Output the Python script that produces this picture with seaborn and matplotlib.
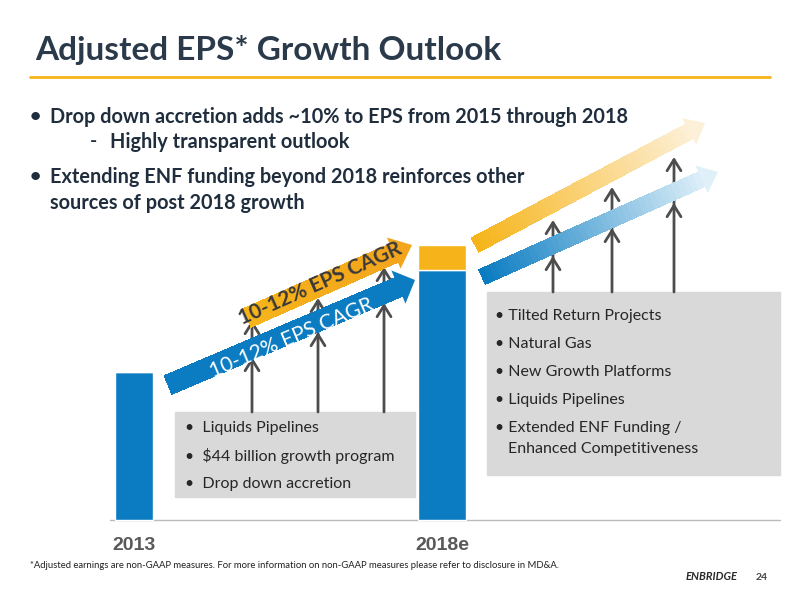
import matplotlib
matplotlib.use("Agg")
import matplotlib.pyplot as plt
import seaborn as sns
import numpy as np
from matplotlib.patches import Polygon, Rectangle, FancyArrowPatch
from matplotlib.colors import to_rgb

sns.set_theme(style="white")
plt.rcParams['font.family'] = ['Lato', 'DejaVu Sans']

categories = ["2013", "2018e"]
base_eps = [148, 250]
growth_add = [0, 25]
left_items = ["Liquids Pipelines", "$44 billion growth program", "Drop down accretion"]
right_items = ["Tilted Return Projects", "Natural Gas", "New Growth Platforms",
               "Liquids Pipelines", "Extended ENF Funding /"]

BLUE = "#0b7cc1"; YEL = "#f6b41a"; NAVY = "#1f2d3d"; GRAY = "#d9d9d9"

fig = plt.figure(figsize=(8, 6), dpi=100)
ax = fig.add_axes([0, 0, 1, 1])
ax.set_xlim(0, 800); ax.set_ylim(0, 600); ax.axis("off")
Y = lambda p: 600 - p

xpos = [134, 442]; widths = [38, 48]
ax.bar(xpos, base_eps, width=widths, bottom=80, color=BLUE, zorder=3)
ax.bar(xpos, growth_add, width=widths, bottom=[80 + b for b in base_eps], color=YEL, zorder=3)
ax.plot([110, 780], [Y(520), Y(520)], color="#bbbbbb", lw=1)
for x, c in zip(xpos, categories):
    ax.text(x, Y(545), c, ha="center", va="center", fontsize=14, fontweight="bold",
            color="#595959", family=["Liberation Sans"])

ax.text(35, Y(50), "Adjusted EPS* Growth Outlook", fontsize=24, fontweight="bold",
        color="#2b3a4a", va="center")
ax.plot([30, 770], [Y(77), Y(77)], color=YEL, lw=2)

bul = [(117, "•", "Drop down accretion adds ~10% to EPS from 2015 through 2018"),
       (177, "•", "Extending ENF funding beyond 2018 reinforces other"),
       (203, "", "sources of post 2018 growth")]
for y, b, t in bul:
    ax.text(30, Y(y), b, fontsize=14, fontweight="bold", color=NAVY, va="center")
    ax.text(50, Y(y), t, fontsize=14.3, fontweight="bold", color=NAVY, va="center")
ax.text(90, Y(142), "-", fontsize=14, fontweight="bold", color=NAVY, va="center")
ax.text(110, Y(142), "Highly transparent outlook", fontsize=14.3, fontweight="bold", color=NAVY, va="center")

ax.add_patch(Rectangle((175, Y(497)), 240, 85, color=GRAY, zorder=1))
ax.add_patch(Rectangle((487, Y(475)), 293, 183, color=GRAY, zorder=1))
for i, t in enumerate(left_items):
    ax.text(185, Y(428 + i * 28), "•  " + t, fontsize=11.5, color="#262626", va="center", zorder=4)
for i, t in enumerate(right_items):
    ax.text(495, Y(316 + i * 28), "• " + t, fontsize=11.5, color="#262626", va="center", zorder=4)
ax.text(508, Y(449), "Enhanced Competitiveness", fontsize=11.5, color="#262626", va="center", zorder=4)

def garrow(x, y0, y1):
    ax.add_patch(FancyArrowPatch((x, Y(y0)), (x, Y(y1)), arrowstyle="->,head_length=8,head_width=5",
                                 color="#4d4d4d", lw=2, zorder=2, mutation_scale=1,
                                 shrinkA=0, shrinkB=0))

for x, base, lo, hi in [(252, 412, 357, 320), (318, 412, 332, 298), (384, 412, 303, 267),
                        (553, 292, 256, 220), (612, 292, 228, 187), (674, 292, 203, 157)]:
    garrow(x, base, lo)
    garrow(x, lo + 5, hi)

def big_arrow(x0, y0, x1, y1, w, hw, hl, c0, c1, n=40, z=3):
    p0 = np.array([x0, Y(y0)]); p1 = np.array([x1, Y(y1)])
    d = p1 - p0; L = np.linalg.norm(d); u = d / L; nrm = np.array([-u[1], u[0]])
    body_end = p1 - u * hl
    c0 = np.array(to_rgb(c0)); c1 = np.array(to_rgb(c1))
    for i in range(n):
        a = p0 + (body_end - p0) * i / n; b = p0 + (body_end - p0) * (i + 1.3) / n
        col = c0 + (c1 - c0) * (i / n)
        ax.add_patch(Polygon([a + nrm * w / 2, b + nrm * w / 2, b - nrm * w / 2, a - nrm * w / 2],
                             facecolor=col, edgecolor="none", lw=0, zorder=z, antialiased=False))
    ax.add_patch(Polygon([body_end + nrm * hw / 2, p1, body_end - nrm * hw / 2], color=c1, lw=0, zorder=z))

big_arrow(168, 385, 415, 280, 20, 36, 18, BLUE, BLUE)
big_arrow(247, 318, 412, 245, 20, 34, 20, YEL, "#f3a51c", z=3.5)
big_arrow(475, 245, 705, 123, 16, 30, 18, YEL, "#fdf0d8")
big_arrow(482, 277, 718, 172, 16, 30, 18, BLUE, "#dff0f9")

ax.text(292, Y(338), "10-12% EPS CAGR", rotation=23, fontsize=15, color="white",
        ha="center", va="center", zorder=5)
ax.text(320, Y(284), "10-12% EPS CAGR", rotation=24, fontsize=15, color="#3a3a3a",
        fontweight="bold", ha="center", va="center", zorder=5)

ax.text(30, Y(566), "*Adjusted earnings are non-GAAP measures. For more information on non-GAAP measures please refer to disclosure in MD&A.",
        fontsize=6.8, color="#222222", va="center")
ax.text(712, Y(577), "ENBRIDGE", fontsize=8, fontweight="bold", style="italic", color="#2b2b2b",
        va="center", ha="center")
ax.text(762, Y(577), "24", fontsize=7.5, fontweight="bold", color="#444444", va="center", ha="center")

fig.savefig("out.png", dpi=100)
